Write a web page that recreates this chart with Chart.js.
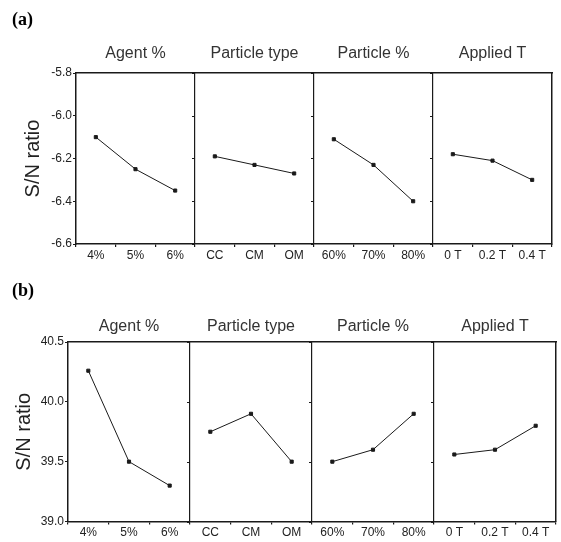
<!DOCTYPE html>
<html>
<head>
<meta charset="utf-8">
<script src="https://cdn.jsdelivr.net/npm/chart.js@4"></script>
<style>
  body { margin: 0; background: #fff; }
  .panel { position: absolute; left: 0; width: 561px; }
  .tag { position: absolute; left: 12px; font: bold 18px "Liberation Serif", serif; color: #000; }
</style>
</head>
<body>
<div class="panel" style="top:0;height:270px"><canvas id="chartA" width="561" height="270"></canvas></div>
<div class="panel" style="top:270px;height:272px"><canvas id="chartB" width="561" height="272"></canvas></div>
<div class="tag" style="top:9px">(a)</div>
<div class="tag" style="top:280px">(b)</div>
<script>
const factors = ['Agent %', 'Particle type', 'Particle %', 'Applied T'];
const levels = [
    ['4%', '5%', '6%'],
    ['CC', 'CM', 'OM'],
    ['60%', '70%', '80%'],
    ['0 T', '0.2 T', '0.4 T']
];
// S/N ratio, panel (a)
const snA = [
    [-6.10, -6.25, -6.35],
    [-6.19, -6.23, -6.27],
    [-6.11, -6.23, -6.40],
    [-6.18, -6.21, -6.30]
];
// S/N ratio, panel (b)
const snB = [
    [40.26, 39.50, 39.30],
    [39.75, 39.90, 39.50],
    [39.50, 39.60, 39.90],
    [39.56, 39.60, 39.80]
];
const yTicksA = [-6.6, -5.8, 0.2];
const yTicksB = [39.0, 40.5, 0.5];

const ink = '#1a1a1a';
const sans = '"Liberation Sans", Arial, sans-serif';
const dividers = [3.5, 6.5, 9.5];

// small left-pointing ticks on each divider line
const dividerTicks = {
    id: 'dividerTicks',
    afterDraw(chart) {
        const {ctx, scales: {x, y}} = chart;
        ctx.save();
        ctx.strokeStyle = ink;
        ctx.lineWidth = 1;
        dividers.forEach(d => {
            const px = x.getPixelForValue(d);
            y.ticks.forEach(t => {
                const py = Math.round(y.getPixelForValue(t.value)) + 0.5;
                ctx.beginPath();
                ctx.moveTo(px - 3, py);
                ctx.lineTo(px, py);
                ctx.stroke();
            });
        });
        ctx.restore();
    }
};

function makeChart(id, values, yt, geo) {
    const datasets = values.map((vals, i) => ({
        label: factors[i],
        data: vals.map((v, j) => ({x: i * 3 + j + 1, y: v})),
        borderColor: ink,
        backgroundColor: ink,
        borderWidth: 1,
        pointStyle: 'rect',
        pointRadius: 2.2,
        tension: 0
    }));
    return new Chart(document.getElementById(id), {
        type: 'line',
        data: {datasets},
        plugins: [dividerTicks],
        options: {
            responsive: false,
            animation: false,
            layout: {padding: {left: 0, right: geo.right, top: 0, bottom: 0}},
            plugins: {legend: {display: false}, tooltip: {enabled: false}},
            scales: {
                x: {
                    type: 'linear', min: 0.5, max: 12.5,
                    afterFit: s => { s.height = geo.xh; },
                    afterBuildTicks: s => {
                        const t = [];
                        for (let v = 0.5; v <= 12.5; v += 0.5) t.push({value: v});
                        s.ticks = t;
                    },
                    ticks: {
                        autoSkip: false, maxRotation: 0, padding: 1,
                        color: '#222', font: {family: sans, size: 12},
                        callback: v => Number.isInteger(v) ? levels[Math.floor((v - 1) / 3)][(v - 1) % 3] : ''
                    },
                    grid: {
                        color: c => dividers.includes(c.tick && c.tick.value) ? ink : 'rgba(0,0,0,0)',
                        tickColor: c => (c.tick && Number.isInteger(c.tick.value)) ? 'rgba(0,0,0,0)' : ink,
                        tickLength: 3, lineWidth: 1.2
                    },
                    border: {color: ink, width: 1.5}
                },
                x2: {
                    type: 'linear', min: 0.5, max: 12.5, position: 'top',
                    afterFit: s => { s.height = geo.top; },
                    afterBuildTicks: s => { s.ticks = factors.map((f, i) => ({value: i * 3 + 2})); },
                    ticks: {
                        autoSkip: false, maxRotation: 0, padding: geo.titlePad,
                        color: '#333', font: {family: sans, size: 16},
                        callback: v => factors[(v - 2) / 3]
                    },
                    grid: {display: false, drawTicks: false},
                    border: {color: ink, width: 1.5}
                },
                y: {
                    min: yt[0], max: yt[1],
                    afterFit: s => { s.width = geo.left; },
                    ticks: {
                        stepSize: yt[2], padding: 1,
                        color: '#222', font: {family: sans, size: 12},
                        callback: v => v.toFixed(1)
                    },
                    grid: {drawOnChartArea: false, tickLength: 3, color: ink},
                    border: {color: ink, width: 1.5},
                    title: {
                        display: true, text: 'S/N ratio', color: '#222',
                        font: {family: sans, size: 20},
                        padding: {top: geo.titleY, bottom: 0}
                    }
                },
                y2: {
                    position: 'right', min: yt[0], max: yt[1],
                    afterFit: s => { s.width = 0; },
                    ticks: {display: false},
                    grid: {display: false, drawTicks: false},
                    border: {color: ink, width: 1.5}
                }
            }
        }
    });
}

makeChart('chartA', snA, yTicksA, {left: 76, right: 9, top: 73, xh: 26, titlePad: 10, titleY: 21});
makeChart('chartB', snB, yTicksB, {left: 68, right: 4, top: 72, xh: 20.5, titlePad: 6, titleY: 12});
</script>
</body>
</html>
